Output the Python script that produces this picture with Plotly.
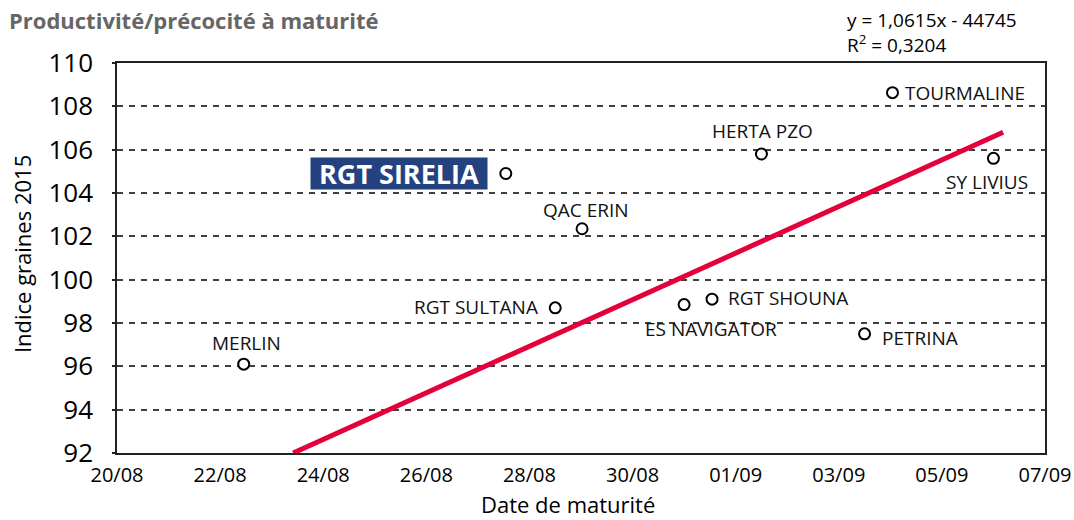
import plotly.graph_objects as go

# Data
varieties = ["MERLIN", "RGT SULTANA", "RGT SIRELIA", "QAC ERIN", "ES NAVIGATOR",
             "RGT SHOUNA", "HERTA PZO", "PETRINA", "TOURMALINE", "SY LIVIUS"]
maturity = ["2015-08-22 11:00", "2015-08-28 12:00", "2015-08-27 13:00", "2015-08-29 00:30",
            "2015-08-31 00:00", "2015-08-31 13:00", "2015-09-01 12:00", "2015-09-03 12:00",
            "2015-09-04 01:00", "2015-09-06 00:00"]
index_2015 = [96.1, 98.7, 104.9, 102.35, 98.85, 99.1, 105.8, 97.5, 108.63, 105.6]
trend_x = ["2015-08-23 10:00", "2015-09-06 04:30"]
trend_y = [92.0, 106.8]
y_ticks = [92, 94, 96, 98, 100, 102, 104, 106, 108, 110]

FONT = "Open Sans"

fig = go.Figure()
fig.add_trace(go.Scatter(x=trend_x, y=trend_y, mode="lines",
                         line=dict(color="#E4003A", width=5), hoverinfo="skip"))
fig.add_trace(go.Scatter(x=maturity, y=index_2015, mode="markers",
                         marker=dict(size=11, color="white", line=dict(color="black", width=2)),
                         text=varieties))

# label placement: (xanchor, xshift, yshift)
place = {
    "MERLIN": ("center", 3, 21),
    "RGT SULTANA": ("right", -15, 1),
    "QAC ERIN": ("center", 4, 19),
    "ES NAVIGATOR": ("center", 27, -24),
    "RGT SHOUNA": ("left", 14, 1),
    "HERTA PZO": ("center", 1, 23),
    "PETRINA": ("left", 15, -4),
    "TOURMALINE": ("left", 11, 0),
    "SY LIVIUS": ("center", -6, -24),
}
for name, xv, yv in zip(varieties, maturity, index_2015):
    if name == "RGT SIRELIA":
        fig.add_annotation(x=xv, y=yv, text="<b>RGT SIRELIA</b>", showarrow=False,
                           xanchor="right", yanchor="middle", xshift=-18, yshift=0,
                           width=176, height=31, align="center", valign="middle",
                           font=dict(family=FONT, size=27, color="white"),
                           bgcolor="#23427F", borderpad=0)
        continue
    xa, xs, ys = place[name]
    fig.add_annotation(x=xv, y=yv, text=name, showarrow=False,
                       xanchor=xa, yanchor="middle", xshift=xs, yshift=ys,
                       font=dict(family=FONT, size=19, color="#111111"))

# Title and regression equation
fig.add_annotation(xref="paper", yref="paper", x=-0.118, y=1.0, yshift=43,
                   text="<b>Productivité/précocité à maturité</b>", showarrow=False,
                   xanchor="left", yanchor="middle",
                   font=dict(family=FONT, size=22, color="#666666"))
fig.add_annotation(xref="paper", yref="paper", x=0.784, y=1.0, yshift=31,
                   text="y = 1,0615x - 44745<br>R<sup>2</sup> = 0,3204", showarrow=False,
                   xanchor="left", yanchor="middle", align="left",
                   font=dict(family=FONT, size=19, color="black"))

# Axis titles
fig.add_annotation(xref="paper", yref="paper", x=0.486, y=0.0, yshift=-51,
                   text="Date de maturité", showarrow=False,
                   xanchor="center", yanchor="middle",
                   font=dict(family=FONT, size=22, color="black"))
fig.add_annotation(xref="paper", yref="paper", x=0.0, xshift=-95, y=0.51,
                   text="Indice graines 2015", showarrow=False, textangle=-90,
                   xanchor="center", yanchor="middle",
                   font=dict(family=FONT, size=22, color="black"))

fig.update_layout(
    width=1074, height=520,
    margin=dict(l=117, r=29, t=63, b=67),
    paper_bgcolor="white", plot_bgcolor="white",
    showlegend=False,
    font=dict(family=FONT, color="black"),
    xaxis=dict(type="date", range=["2015-08-20", "2015-09-07"], automargin=False,
               tick0="2015-08-20", dtick=2 * 86400000, tickformat="%d/%m",
               showgrid=False, zeroline=False, showline=True, linecolor="#222",
               linewidth=1.5, mirror=True, ticks="", ticklabelstandoff=3,
               tickfont=dict(size=20, family=FONT)),
    yaxis=dict(range=[92, 110], tickvals=y_ticks, ticktext=[str(v) for v in y_ticks],
               automargin=False,
               showgrid=True, gridcolor="#404040", griddash="6px,6px", gridwidth=1.5,
               zeroline=False, showline=True, linecolor="#222", linewidth=1.5, mirror=True,
               ticks="outside", ticklen=3, tickcolor="#222", tickwidth=1.5,
               ticklabelstandoff=14,
               tickfont=dict(size=26, family=FONT)),
)
fig.write_html("out.html", config={"displayModeBar": False},
               post_script="document.body.style.margin='0px';")
